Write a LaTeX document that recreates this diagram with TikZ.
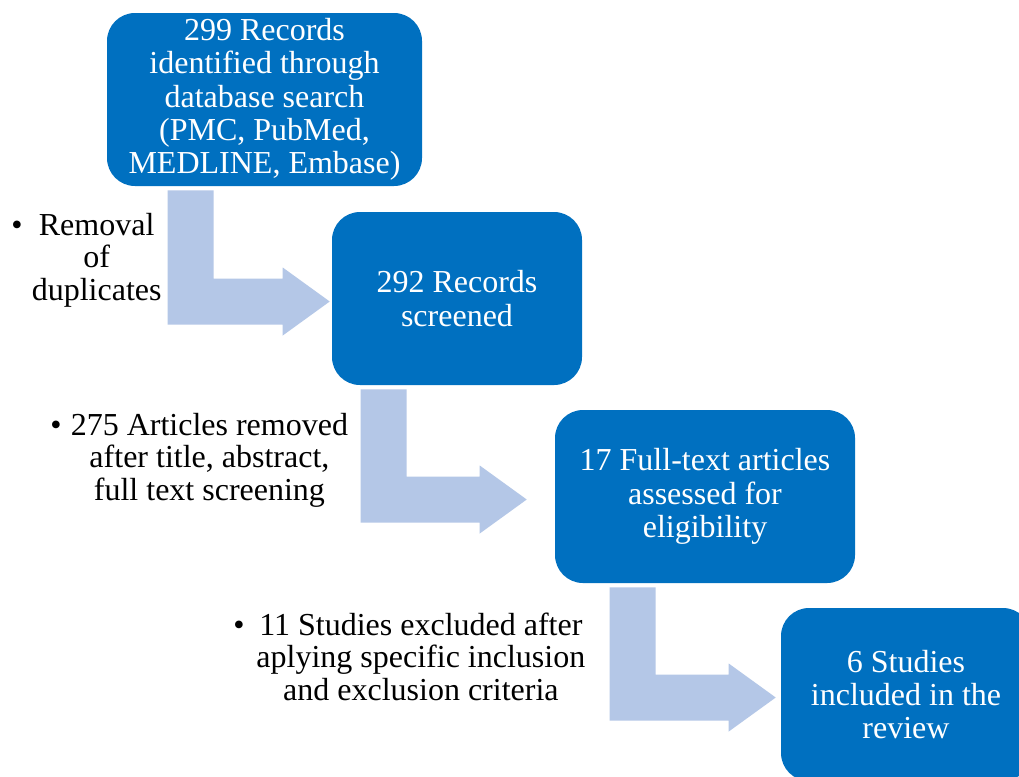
\documentclass[tikz,border=0pt]{standalone}
\usepackage{fontspec}
\setmainfont{Liberation Serif}
\usetikzlibrary{calc}
\definecolor{boxblue}{HTML}{0070C0}
\definecolor{arrowblue}{HTML}{B4C7E7}
\tikzset{
  box/.style={fill=boxblue, rounded corners=21pt, minimum height=129.75pt,
    align=center, text=white, font=\fontsize{24}{25}\selectfont, inner sep=0pt},
  lbl/.style={anchor=base west, inner sep=0pt, font=\fontsize{24}{24.5}\selectfont},
  arrowfill/.style={fill=arrowblue}
}
% #1 from node, #2 to node, #3 bar left offset (px), #4 gap before target (px)
\newcommand\bentarrow[4]{%
  \fill[arrowfill] let \p1=($(#1.south west)+(#3,4)$), \p3=($(#2.west)+(-#4,3)$) in
    (\x1,\y1) -- (\x1+34.5pt,\y1) -- (\x1+34.5pt,\y3+17.25pt)
    -- (\x3-35.25pt,\y3+17.25pt) -- (\x3-35.25pt,\y3+25.5pt)
    -- (\x3,\y3) -- (\x3-35.25pt,\y3-25.5pt) -- (\x3-35.25pt,\y3-17.25pt)
    -- (\x1,\y3-17.25pt) -- cycle;%
}
\begin{document}
\begin{tikzpicture}[x=0.75pt,y=-0.75pt]
  \clip (0,0) rectangle (1019,776);
  \fill[white] (0,0) rectangle (1019,776);

  \node[box, minimum width=236.25pt] (b1) at (264.5,99.5)
    {299 Records\\identified through\\database search\\(PMC, PubMed,\\MEDLINE, Embase)};
  \node[box, minimum width=187.5pt] (b2) at (457,298.5) {292 Records\\screened};
  \node[box, minimum width=225pt] (b3) at (705,496.5) {17 Full-text articles\\assessed for\\eligibility};
  \node[box, minimum width=187.5pt] (b4) at (906,694.5) {6 Studies\\included in the\\review};

  \bentarrow{b1}{b2}{61}{2}
  \bentarrow{b2}{b3}{29}{28}
  \bentarrow{b3}{b4}{55}{5}

  \node[lbl] (l1) at (11,235)
    {\begin{tabular}[t]{@{}l@{\hspace{7pt}}c@{}}\textbullet & Removal\\ & of\\ & duplicates\end{tabular}};
  \node[lbl] (l2) at (50,435)
    {\begin{tabular}[t]{@{}l@{\hspace{7pt}}c@{}}\textbullet & 275 Articles removed\\ & after title, abstract,\\ & full text screening\end{tabular}};
  \node[lbl] (l3) at (233,635)
    {\begin{tabular}[t]{@{}l@{\hspace{9pt}}c@{}}\textbullet & 11 Studies excluded after\\ & aplying specific inclusion\\ & and exclusion criteria\end{tabular}};
\end{tikzpicture}
\end{document}
